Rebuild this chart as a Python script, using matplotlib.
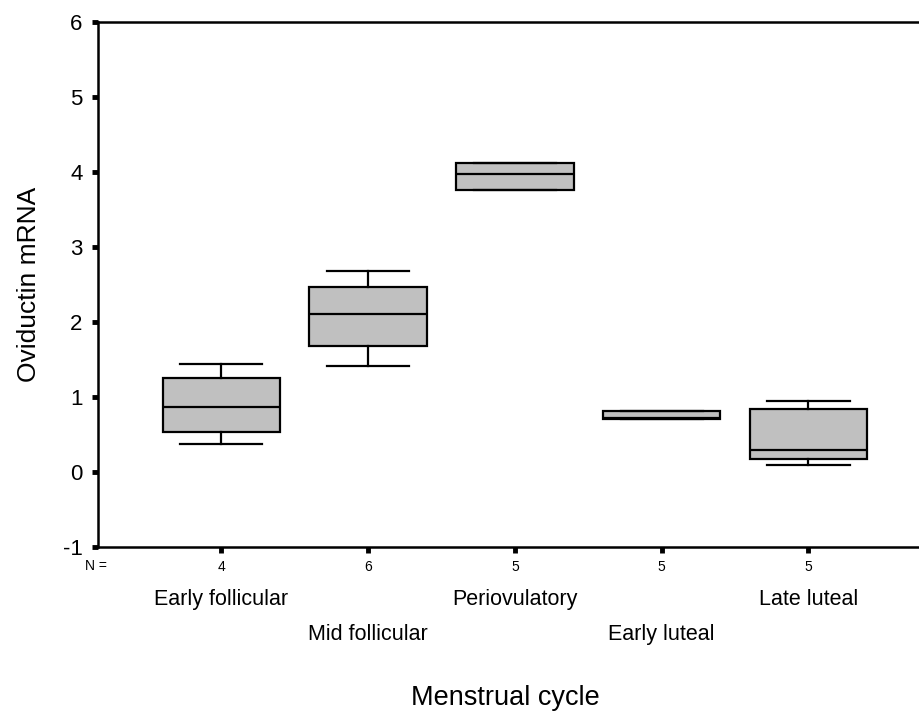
import matplotlib.pyplot as plt

plt.rcParams['font.family'] = ['Liberation Sans', 'DejaVu Sans']
plt.rcParams['axes.unicode_minus'] = False

# data
groups = ['Early follicular', 'Mid follicular', 'Periovulatory', 'Early luteal', 'Late luteal']
counts = [4, 6, 5, 5, 5]
whisker_low = [0.37, 1.41, 3.76, 0.71, 0.09]
q1 = [0.53, 1.68, 3.76, 0.71, 0.17]
median = [0.87, 2.11, 3.97, 0.72, 0.29]
q3 = [1.26, 2.47, 4.12, 0.82, 0.84]
whisker_high = [1.44, 2.68, 4.12, 0.82, 0.95]

stats = []
for i in range(len(groups)):
    stats.append({'whislo': whisker_low[i], 'q1': q1[i], 'med': median[i],
                  'q3': q3[i], 'whishi': whisker_high[i], 'label': str(counts[i])})

fig = plt.figure(figsize=(9.2, 7.13), dpi=100)
ax = fig.add_axes([0.1065, 0.2328, 0.8935, 0.7363])

positions = list(range(1, len(groups) + 1))
ax.bxp(stats, positions=positions, widths=0.8, patch_artist=True, showfliers=False,
       boxprops=dict(facecolor='#c0c0c0', edgecolor='black', linewidth=1.6),
       medianprops=dict(color='black', linewidth=1.6),
       whiskerprops=dict(color='black', linewidth=1.6),
       capprops=dict(color='black', linewidth=1.6),
       capwidths=0.56)

ax.set_xlim(0.16, 5.76)
ax.set_ylim(-1, 6)
ax.set_yticks(range(-1, 7))
ax.set_xticks(positions)
ax.set_xticklabels([str(c) for c in counts], fontsize=10)

for s in ['left', 'top', 'bottom']:
    ax.spines[s].set_linewidth(1.8)
ax.spines['right'].set_visible(False)

ax.tick_params(axis='y', direction='out', length=4, width=3.5, labelsize=16, pad=7)
ax.tick_params(axis='x', direction='out', length=4, width=3.5, pad=5)

# N = label and group names
ax.text(-0.002, -0.0438, 'N =', transform=ax.transAxes, ha='center', va='baseline', fontsize=10)
for i, g in enumerate(groups):
    yy = -0.1105 if i % 2 == 0 else -0.177
    ax.text(positions[i], yy, g, transform=ax.get_xaxis_transform(),
            ha='center', va='baseline', fontsize=15.5)

ax.set_ylabel('Oviductin mRNA', fontsize=19, labelpad=16)
fig.text(0.549, 1 - 705 / 713, 'Menstrual cycle', ha='center', va='baseline', fontsize=19.5)

fig.savefig('out.png', dpi=100)
